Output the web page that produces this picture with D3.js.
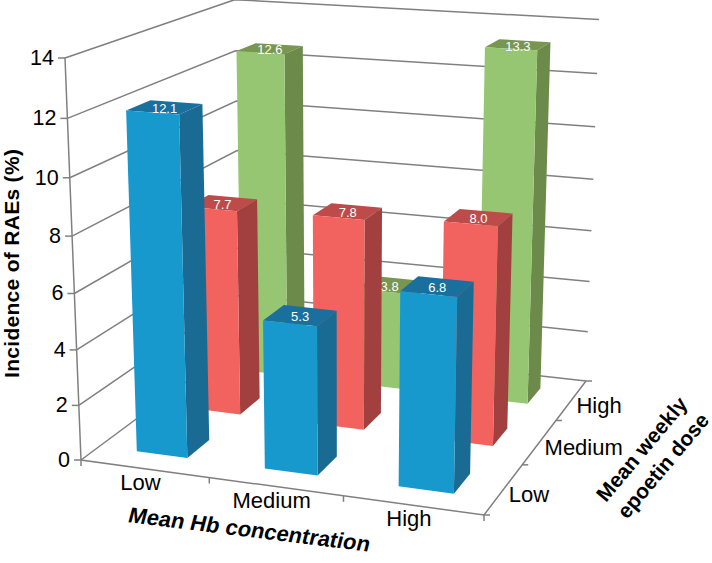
<!DOCTYPE html>
<html lang="en">
<head>
<meta charset="UTF-8">
<script src="https://d3js.org/d3.v7.min.js"></script>
<title>Incidence of RAEs</title>
<style>
    body { margin: 0; background: #fff; }
    text { font-family: "Liberation Sans", Arial, sans-serif; }
</style>
</head>
<body>
<script>
    const hbLevels = ["Low", "Medium", "High"];
    const doseLevels = ["Low", "Medium", "High"];
    const yTicks = [0, 2, 4, 6, 8, 10, 12, 14];

    // one list per dose level, in hb order
    const lowDose = [12.1, 5.3, 6.8];
    const mediumDose = [7.7, 7.8, 8.0];
    const highDose = [12.6, 3.8, 13.3];
    const doseValues = [lowDose, mediumDose, highDose];

    const palette = [
        { front: "#1899cd", side: "#1a6b94", top: "#196f9e" },
        { front: "#f2625f", side: "#a24040", top: "#bd4b49" },
        { front: "#96c672", side: "#6c8a49", top: "#78964f" }
    ];

    const width = 712, height = 563;

    // floor corners as seen on screen: front left, front right, back right, back left
    const floor = [[81, 460], [484, 515], [586, 381], [240, 342]];
    // where the 14 level sits above front left and back right
    const topLeft = [65, 58], topRight = [599, 20];

    const xScale = d3.scaleBand().domain(hbLevels).range([0, 1]).paddingInner(0.6).paddingOuter(0.3);
    const depthScale = d3.scaleBand().domain(doseLevels).range([0, 1]).paddingInner(0.6).paddingOuter(0.3);
    const yScale = d3.scaleLinear().domain([0, 14]).range([0, 1]);

    // homography from the unit square to the floor
    const [[x0, y0], [x1, y1], [x2, y2], [x3, y3]] = floor;
    const sx = x0 - x1 + x2 - x3, sy = y0 - y1 + y2 - y3;
    const dx1 = x1 - x2, dx2 = x3 - x2, dy1 = y1 - y2, dy2 = y3 - y2;
    const det = dx1 * dy2 - dx2 * dy1;
    const g = (sx * dy2 - dx2 * sy) / det, h = (dx1 * sy - sx * dy1) / det;
    const a = x1 - x0 + g * x1, b = x3 - x0 + h * x3;
    const d = y1 - y0 + g * y1, e = y3 - y0 + h * y3;

    // vanishing point of the verticals
    const m1 = (topLeft[0] - x0) / (topLeft[1] - y0), m2 = (topRight[0] - x2) / (topRight[1] - y2);
    const vy = (x2 - m2 * y2 - x0 + m1 * y0) / (m1 - m2);
    const vx = x0 + m1 * (vy - y0);
    const k = (topLeft[1] - y0) / (vy - topLeft[1]);

    function project(u, v, t) {
        const w = g * u + h * v + 1;
        const q = t * k;
        return [
            (a * u + b * v + x0 + q * vx) / (w + q),
            (d * u + e * v + y0 + q * vy) / (w + q)
        ];
    }

    const pt = (u, v, value) => project(u, v, yScale(value));
    const path = d3.line();

    const svg = d3.select("body").append("svg")
        .attr("width", width)
        .attr("height", height);

    // gridlines on the two walls
    const grid = svg.append("g")
        .attr("fill", "none")
        .attr("stroke", "#808080")
        .attr("stroke-width", 1.5);

    yTicks.forEach(function(tick) {
        grid.append("path").attr("d", path([pt(0, 0, tick), pt(0, 1, tick), pt(1, 1, tick)]));
        const p = pt(0, 0, tick);
        grid.append("path").attr("d", path([p, [p[0] - 7, p[1]]]));
    });

    // axis frame
    grid.append("path").attr("d", path([pt(0, 0, 14), pt(0, 0, 0), pt(1, 0, 0), pt(1, 1, 0)]));

    // tick marks on the floor edges
    [0, 1 / 3, 2 / 3, 1].forEach(function(u) {
        const p = pt(u, 0, 0);
        grid.append("path").attr("d", path([p, [p[0], p[1] + 6]]));
    });
    [0, 1 / 3, 2 / 3, 1].forEach(function(v) {
        const p = pt(1, v, 0);
        grid.append("path").attr("d", path([p, [p[0] + 6, p[1]]]));
    });

    // bars, back row first
    const bars = svg.append("g");
    d3.range(doseLevels.length - 1, -1, -1).forEach(function(row) {
        const dose = doseLevels[row];
        const v0 = depthScale(dose), v1 = v0 + depthScale.bandwidth();
        hbLevels.forEach(function(hb, col) {
            const value = doseValues[row][col];
            const u0 = xScale(hb), u1 = u0 + xScale.bandwidth();
            const colors = palette[row];
            bars.append("path").attr("fill", colors.top)
                .attr("d", path([pt(u0, v0, value), pt(u1, v0, value), pt(u1, v1, value), pt(u0, v1, value)]) + "Z");
            bars.append("path").attr("fill", colors.side)
                .attr("d", path([pt(u1, v0, 0), pt(u1, v1, 0), pt(u1, v1, value), pt(u1, v0, value)]) + "Z");
            bars.append("path").attr("fill", colors.front)
                .attr("d", path([pt(u0, v0, 0), pt(u1, v0, 0), pt(u1, v0, value), pt(u0, v0, value)]) + "Z");
            const c = pt((u0 + u1) / 2, (v0 + v1) / 2, value);
            bars.append("text")
                .attr("x", c[0])
                .attr("y", c[1] + 6)
                .attr("text-anchor", "middle")
                .attr("font-size", 13)
                .attr("fill", "#fff")
                .text(value.toFixed(1));
        });
    });

    // value axis labels
    yTicks.forEach(function(tick) {
        const p = pt(0, 0, tick);
        svg.append("text")
            .attr("x", p[0] - 11)
            .attr("y", p[1] + 7)
            .attr("text-anchor", "end")
            .attr("font-size", 21.5)
            .text(tick);
    });

    // category labels
    hbLevels.forEach(function(hb) {
        const p = pt(xScale(hb) + xScale.bandwidth() / 2, 0, 0);
        svg.append("text")
            .attr("x", p[0] - 4)
            .attr("y", p[1] + 21)
            .attr("text-anchor", "middle")
            .attr("font-size", 22)
            .text(hb);
    });
    doseLevels.forEach(function(dose) {
        const p = pt(1, depthScale(dose) + depthScale.bandwidth() / 2, 0);
        svg.append("text")
            .attr("x", p[0] + 5)
            .attr("y", p[1] + 13)
            .attr("font-size", 22)
            .text(dose);
    });

    // axis titles
    svg.append("text")
        .attr("transform", "translate(19,378) rotate(-90)")
        .attr("font-size", 21)
        .attr("letter-spacing", 0.3)
        .attr("font-weight", "bold")
        .text("Incidence of RAEs (%)");

    svg.append("text")
        .attr("transform", "translate(127,522) rotate(7) skewX(-8)")
        .attr("font-size", 22)
        .attr("font-weight", "bold")
        .text("Mean Hb concentration");

    svg.append("text")
        .attr("transform", "translate(606,503) rotate(-50)")
        .attr("font-size", 21)
        .attr("font-weight", "bold")
        .text("Mean weekly");

    svg.append("text")
        .attr("transform", "translate(627,520) rotate(-50)")
        .attr("font-size", 21)
        .attr("font-weight", "bold")
        .text("epoetin dose");
</script>
</body>
</html>
